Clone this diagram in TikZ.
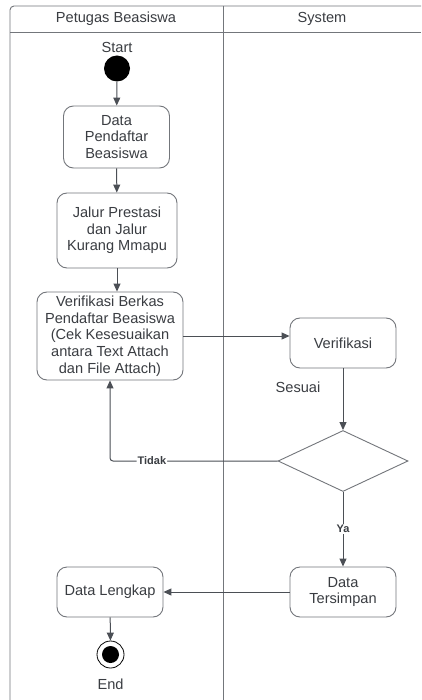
\documentclass[tikz,border=0pt]{standalone}
\usepackage{fontspec}
\setmainfont{Liberation Sans}
\usetikzlibrary{arrows.meta,shapes.geometric}
\definecolor{ink}{HTML}{3A3D42}
\definecolor{edge}{HTML}{73767B}
\definecolor{wire}{HTML}{4B4F55}
\begin{document}
\begin{tikzpicture}[x=1pt,y=-1pt,
  every node/.style={text=ink, font=\fontsize{14.6}{16.7}\selectfont},
  actbox/.style={draw=edge, line width=0.9pt, rounded corners=10pt, align=center, inner sep=0pt},
  flow/.style={draw=wire, line width=1pt, -{Triangle[length=8pt,width=7pt]}},
  guard/.style={font=\bfseries\fontsize{11}{13}\selectfont, fill=white, inner sep=1pt},
  lane/.style={draw=edge, line width=0.9pt}]
\useasboundingbox[fill=white] (0,0) rectangle (421,700);

% swimlanes
\draw[lane, rounded corners=4pt] (10,700) -- (10,6) -- (421,6);
\draw[lane] (10,32) -- (421,32);
\draw[lane] (223,6) -- (223,700);
\node (lane1) at (116,19) {Petugas Beasiswa};
\node (lane2) at (322,19) {System};

% start
\node (startlbl) at (117,47) {Start};
\node[circle, fill=black, minimum size=26pt, inner sep=0pt] (start) at (117,68.5) {};

% activities
\node[actbox, minimum width=106pt, minimum height=62pt] (b1) at (116.5,137) {Data\\Pendaftar\\Beasiswa};
\node[actbox, minimum width=120pt, minimum height=75pt] (b2) at (117,230.5) {Jalur Prestasi\\dan Jalur\\Kurang Mmapu};
\node[actbox, minimum width=146pt, minimum height=88pt] (b3) at (110,336) {Verifikasi Berkas\\Pendaftar Beasiswa\\(Cek Kesesuaikan\\antara Text Attach\\dan File Attach)};
\node[actbox, minimum width=106pt, minimum height=50pt] (b4) at (343,343) {Verifikasi};
\node (sesuai) at (298,387) {Sesuai};
\node[diamond, draw=edge, line width=0.9pt, minimum width=130pt, minimum height=61pt, inner sep=0pt, aspect=2.13] (dec) at (343,461) {};
\node[actbox, minimum width=106pt, minimum height=50pt] (dt) at (343,592) {Data\\Tersimpan};
\node[actbox, minimum width=106pt, minimum height=50pt] (dl) at (110,592) {Data Lengkap};

% end
\node[circle, draw=black, line width=0.8pt, minimum size=27pt, inner sep=0pt,
  path picture={\fill[black] (path picture bounding box.center) circle (8.5pt);}] (end) at (110.5,654.5) {};
\node (endlbl) at (110.5,684) {End};

% flows
\draw[flow] (start) -- (b1);
\draw[flow] (b1) -- (b2);
\draw[flow] (b2.south) -- (b2.south |- b3.north);
\draw[flow] (b3.east) -- (b3.east -| b4.west);
\draw[flow] (b4) -- (dec);
\draw[flow, rounded corners=3pt] (dec.west) -| node[guard, pos=0.375] (tidak) {Tidak} (b3.south);
\draw[flow] (dec.south) -- node[guard] (ya) {Ya} (dt.north);
\draw[flow] (dt.west) -- (dl.east);
\draw[flow] (dl) -- (end);
\end{tikzpicture}
\end{document}
